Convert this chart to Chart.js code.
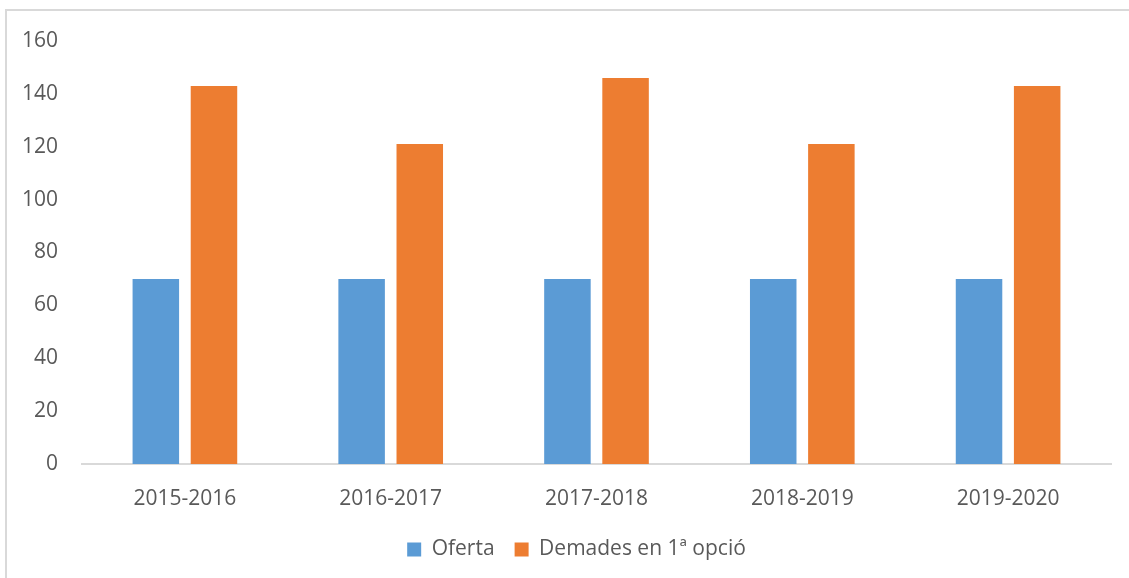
<!DOCTYPE html>
<html>
<head>
<meta charset="utf-8">
<script src="https://cdn.jsdelivr.net/npm/chart.js@4"></script>
<style>
  html, body { margin: 0; padding: 0; background: #ffffff; overflow: hidden; }
  body { width: 1129px; height: 578px; position: relative; }
  #frame { position: absolute; left: 5px; top: 9px; width: 1140px; height: 590px;
           border: 2px solid #d9d9d9; box-sizing: border-box; background: #fff; }
  #wrap { position: absolute; left: 1px; top: 1px; width: 1136px; height: 586px; }
</style>
</head>
<body>
<div id="frame"><div id="wrap"><canvas id="c"></canvas></div></div>
<script>
const categories = ["2015-2016", "2016-2017", "2017-2018", "2018-2019", "2019-2020"];
const seriesNames = ["Oferta", "Demades en 1ª opció"];
const oferta = [70, 70, 70, 70, 70];
const demandes = [143, 121, 146, 121, 143];
const yTicks = [0, 20, 40, 60, 80, 100, 120, 140, 160];

const FONT = "'Open Sans', 'Noto Sans', sans-serif";
const TXT = "#595959";

// Center the legend on the whole chart frame (as in the original), not on the padded area
const legendCenterPlugin = {
  id: 'legendCenter',
  afterLayout(chart) {
    const lg = chart.legend;
    if (lg) { lg.left += 17; lg.right += 17; }
  }
};

new Chart(document.getElementById('c'), {
  type: 'bar',
  data: {
    labels: categories,
    datasets: [
      { label: seriesNames[0], data: oferta, backgroundColor: '#5b9bd5', borderWidth: 0 },
      { label: seriesNames[1], data: demandes, backgroundColor: '#ed7d31', borderWidth: 0 }
    ]
  },
  plugins: [legendCenterPlugin],
  options: {
    responsive: true,
    maintainAspectRatio: false,
    animation: false,
    datasets: { bar: { categoryPercentage: 0.565, barPercentage: 0.8 } },
    layout: { padding: { top: 29, right: 33, left: 0, bottom: 28 } },
    plugins: {
      tooltip: { enabled: false },
      legend: {
        position: 'bottom',
        labels: {
          font: { family: FONT, size: 21 },
          color: TXT,
          boxWidth: 14,
          boxHeight: 14,
          padding: 20
        }
      }
    },
    scales: {
      x: {
        afterFit: (s) => { s.height = 55; },
        grid: { display: false, drawTicks: false },
        border: { display: true, color: '#d9d9d9', width: 2 },
        ticks: { font: { family: FONT, size: 21 }, color: TXT, padding: 22 }
      },
      y: {
        min: 0, max: 160,
        afterBuildTicks: (s) => { s.ticks = yTicks.map(v => ({ value: v })); },
        afterFit: (s) => { s.width = 74; s.paddingTop = 0; s.paddingBottom = 0; },
        grid: { display: false, drawTicks: false },
        border: { display: false },
        ticks: { font: { family: FONT, size: 21 }, color: TXT, padding: 24 }
      }
    }
  }
});
</script>
</body>
</html>
